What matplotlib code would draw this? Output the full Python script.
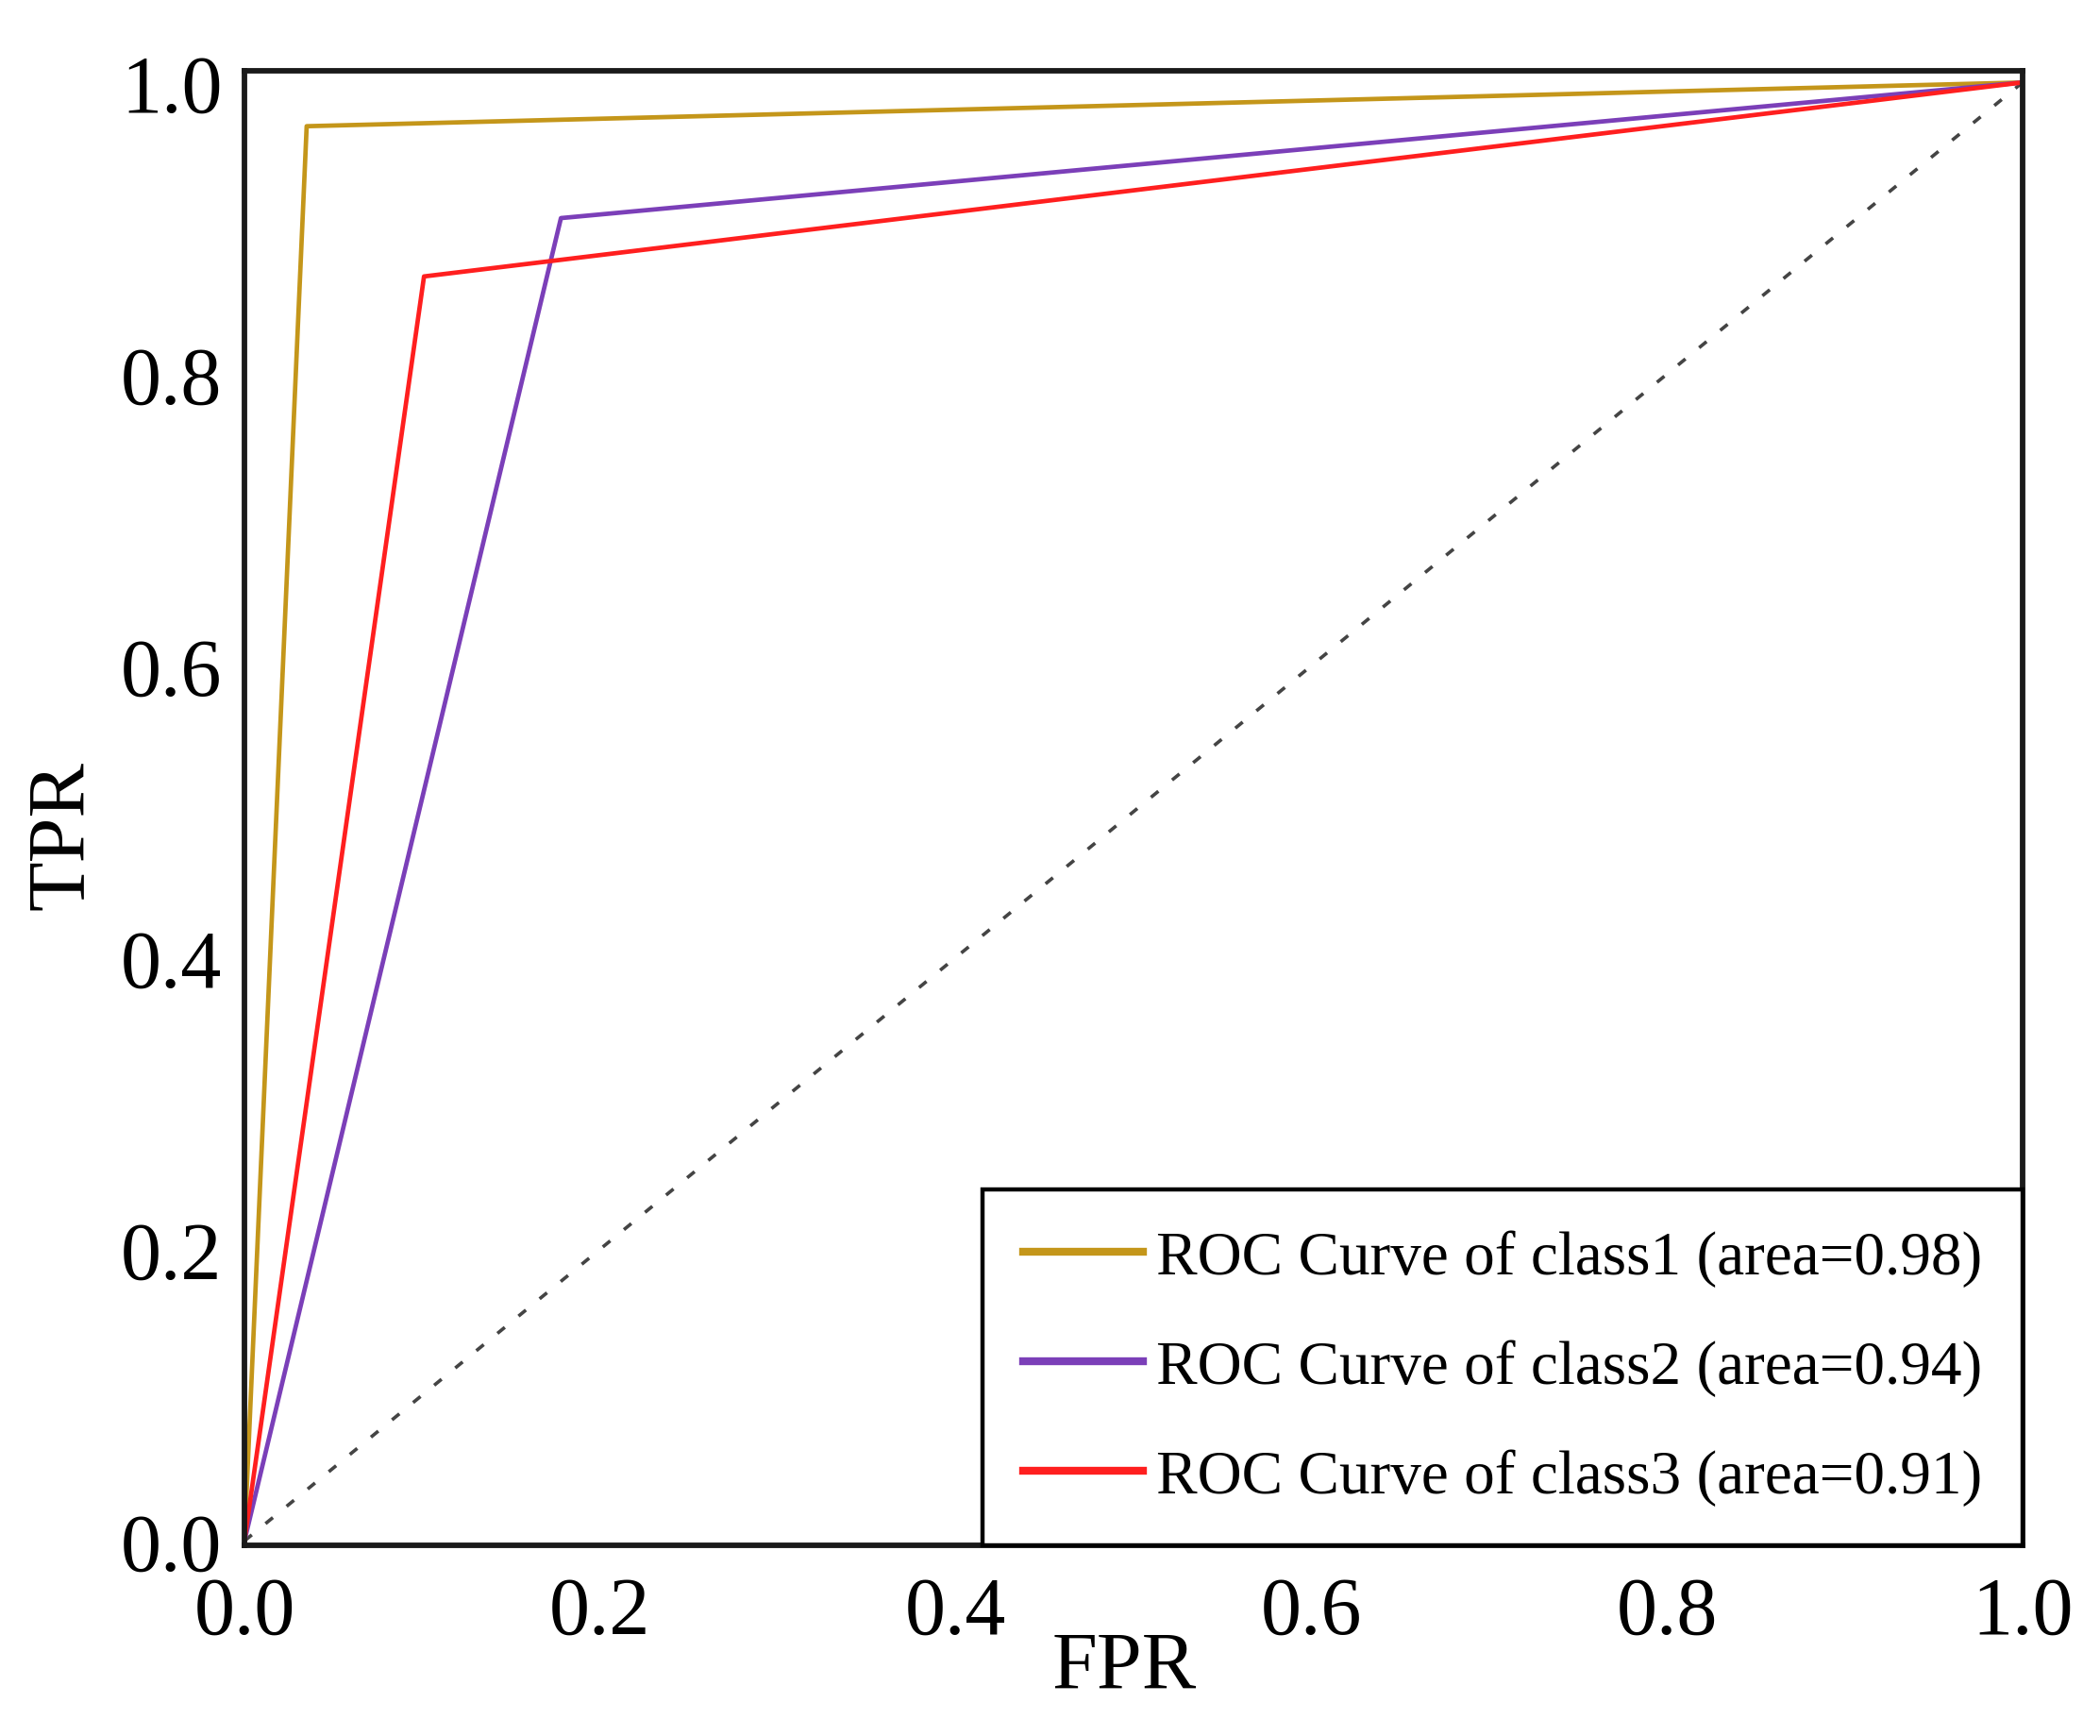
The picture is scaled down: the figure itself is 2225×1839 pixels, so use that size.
import matplotlib
matplotlib.use("Agg")
import matplotlib.pyplot as plt
import numpy as np

# ---- data ----
fpr_class1 = [0.0, 0.035, 1.0]
tpr_class1 = [0.0, 0.970, 1.0]
fpr_class2 = [0.0, 0.178, 1.0]
tpr_class2 = [0.0, 0.907, 1.0]
fpr_class3 = [0.0, 0.101, 1.0]
tpr_class3 = [0.0, 0.867, 1.0]
labels = ["ROC Curve of class1 (area=0.98)",
          "ROC Curve of class2 (area=0.94)",
          "ROC Curve of class3 (area=0.91)"]
colors = ["#C4961A", "#7B3FB8", "#FF1F1F"]
ticks = [0.0, 0.2, 0.4, 0.6, 0.8, 1.0]
tick_labels = ["0.0", "0.2", "0.4", "0.6", "0.8", "1.0"]

plt.rcParams['font.family'] = ['Liberation Serif', 'DejaVu Serif']

fig = plt.figure(figsize=(22.25, 18.4), dpi=100)
ax = fig.add_axes([0.1164, 0.1098, 0.8467, 0.8489])

ax.plot([0, 1], [0, 1], color="#444444", lw=2.6, linestyle=(0, (2.8, 5.2)))
series = [(fpr_class1, tpr_class1), (fpr_class2, tpr_class2), (fpr_class3, tpr_class3)]
for (fx, ty), lab, col in zip(series, labels, colors):
    ax.plot(fx, ty, color=col, lw=3.4, label=lab)

ax.set_xlim(0.0, 1.0)
ax.set_ylim(-0.003, 1.008)
ax.set_xticks(ticks)
ax.set_xticklabels(tick_labels)
ax.set_yticks(ticks)
ax.set_yticklabels(tick_labels)
ax.tick_params(axis='both', length=0, labelsize=62)
ax.tick_params(axis='x', pad=23)
ax.tick_params(axis='y', pad=17)

for sp in ax.spines.values():
    sp.set_linewidth(4.2)
    sp.set_color("#1a1a1a")

ax.set_xlabel("FPR", fontsize=62)
ax.set_ylabel("TPR", fontsize=62)
ax.xaxis.set_label_coords(0.495, -0.058)
ax.yaxis.set_label_coords(-0.0807, 0.482)

leg = ax.legend(loc="lower right", borderaxespad=0, fontsize=47,
                fancybox=False, framealpha=1, edgecolor="black",
                handlelength=1.95, handletextpad=0.22, borderpad=0.65,
                labelspacing=0.85)
leg.get_frame().set_linewidth(3.2)
for ln in leg.get_lines():
    ln.set_linewidth(6)

fig.savefig("out.png", dpi=100)
